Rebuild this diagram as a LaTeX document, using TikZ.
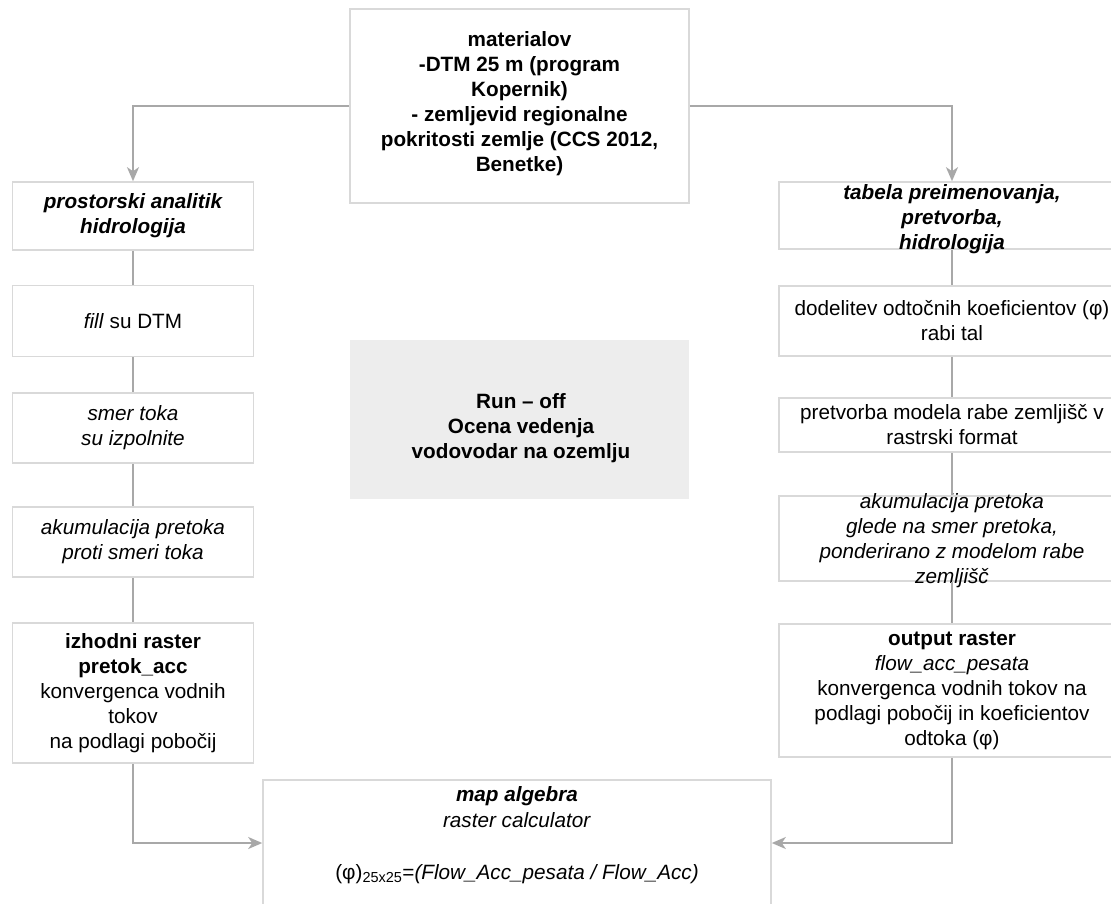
\documentclass[tikz,border=0pt]{standalone}
\usepackage{fontspec}
\setmainfont{Liberation Sans}
\usetikzlibrary{arrows.meta}
\definecolor{boxgray}{RGB}{217,217,217}
\definecolor{linegray}{RGB}{168,168,168}
\definecolor{fillgray}{RGB}{237,237,237}
\tikzset{
  box/.style={draw=boxgray,line width=1.6pt,inner sep=0pt,align=center},
  txt/.style={inner sep=0pt,align=center},
  conn/.style={draw=linegray,line width=1.8pt},
  arr/.style={conn,-{Stealth[length=14pt,width=12pt,inset=4pt]}}
}

\begin{document}
\begin{tikzpicture}[x=1pt,y=-1pt,font=\fontsize{20.7}{25}\selectfont]
\useasboundingbox (0,0) rectangle (1111,903);
%vhod
\node[box,minimum width=339,minimum height=194] (src) at (519.5,106) {};
\node[txt,font=\fontsize{20.7}{25}\selectfont\bfseries] (srct) at (519.5,104) {materialov\\-DTM 25 m (program\\Kopernik)\\- zemljevid regionalne\\pokritosti zemlje (CCS 2012,\\Benetke)};
%sredina
\node[txt,fill=fillgray,minimum width=339,minimum height=159] (runoff) at (519.5,419.5) {};
\node[txt,font=\fontsize{20.7}{25}\selectfont\bfseries] (runofft) at (521,428) {Run -- off\\Ocena vedenja\\ vodovodar na ozemlju};
%levi stolpec
\node[box,minimum width=241,minimum height=68] (l1) at (133,216) {\bfseries\itshape prostorski analitik\\\bfseries\itshape hidrologija};
\node[box,minimum width=241,minimum height=71] (l2) at (133,321) {\textit{fill} su DTM};
\node[box,minimum width=241,minimum height=70] (l3) at (133,428) {\itshape smer toka\\\itshape su izpolnite};
\node[box,minimum width=241,minimum height=70] (l4) at (133,542) {\itshape akumulacija pretoka\\\itshape proti smeri toka};
\node[box,minimum width=241,minimum height=140] (l5) at (133,693) {\textbf{izhodni raster}\\\textbf{pretok\_acc}\\konvergenca vodnih\\tokov\\na podlagi pobočij};
%desni stolpec
\node[box,minimum width=346,minimum height=67] (r1) at (952,215.5) {};
\node[txt,font=\fontsize{20.7}{25}\selectfont\bfseries\itshape] (r1t) at (952,219) {tabela preimenovanja,\\pretvorba,\\hidrologija};
\node[box,minimum width=346,minimum height=70] (r2) at (952,321) {dodelitev odtočnih koeficientov (φ)\\rabi tal};
\node[box,minimum width=346,minimum height=54] (r3) at (952,425) {pretvorba modela rabe zemljišč v\\rastrski format};
\node[box,minimum width=346,minimum height=85] (r4) at (952,538.5) {};
\node[txt,font=\fontsize{20.7}{25}\selectfont\itshape] (r4t) at (952,541) {akumulacija pretoka\\glede na smer pretoka,\\ponderirano z modelom rabe\\zemljišč};
\node[box,minimum width=346,minimum height=133] (r5) at (952,690.5) {\textbf{output raster}\\\textit{flow\_acc\_pesata}\\konvergenca vodnih tokov na\\podlagi pobočij in koeficientov\\odtoka (φ)};
%map algebra
\node[box,minimum width=508,minimum height=126] (calc) at (517,843) {};
\node[txt,font=\fontsize{20.7}{26}\selectfont] (calct) at (517,835) {\textbf{\textit{map algebra}}\\\textit{raster calculator}\\\mbox{}\\(φ)\textsubscript{25x25}=\textit{(Flow\_Acc\_pesata / Flow\_Acc)}};
%puscice
\draw[arr] (src.west) -| (l1.north);
\draw[arr] (src.east) -| (r1.north);
\draw[conn] (l1) -- (l2);
\draw[conn] (l2) -- (l3);
\draw[conn] (l3) -- (l4);
\draw[conn] (l4) -- (l5);
\draw[conn] (r1) -- (r2);
\draw[conn] (r2) -- (r3);
\draw[conn] (r3) -- (r4);
\draw[conn] (r4) -- (r5);
\draw[arr] (l5.south) |- (calc.west);
\draw[arr] (r5.south) |- (calc.east);
\end{tikzpicture}
\end{document}
